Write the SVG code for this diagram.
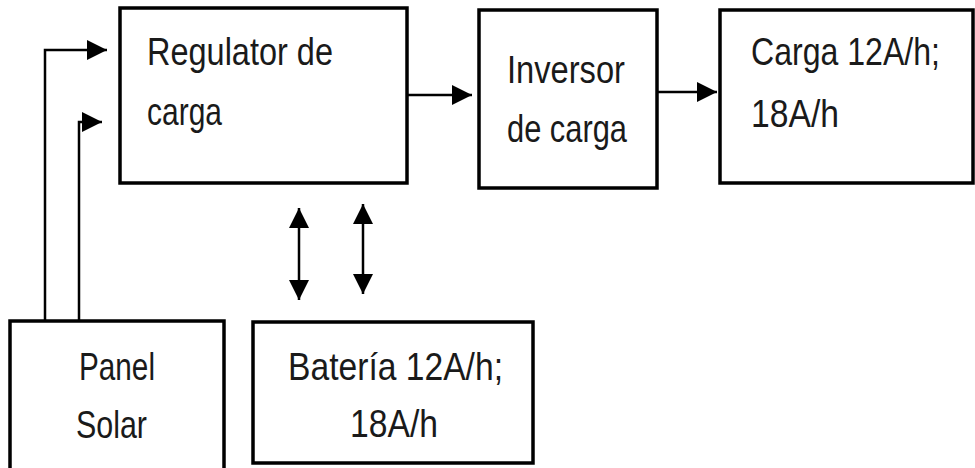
<svg xmlns="http://www.w3.org/2000/svg" width="975" height="468" viewBox="0 0 975 468">
<style>
.box{fill:#fff;stroke:#000;stroke-width:3.5}
.t{font-family:"Liberation Sans",Arial,sans-serif;font-size:39px;fill:#1a1a1a}
.c{text-anchor:middle}
.ln{fill:none;stroke:#000;stroke-width:2.5}
</style>
<defs>
<marker id="ah" viewBox="0 0 10 10" refX="10" refY="5" markerWidth="21" markerHeight="20" markerUnits="userSpaceOnUse" orient="auto-start-reverse">
<path d="M0,0 L10,5 L0,10 Z" fill="#000"/>
</marker>
</defs>
<rect width="975" height="468" fill="#fff"/>
<g id="regulator">
<rect class="box" x="120" y="8" width="287" height="175"/>
<text class="t" x="147" y="65" textLength="186" lengthAdjust="spacingAndGlyphs">Regulator de</text>
<text class="t" x="147" y="125" textLength="75" lengthAdjust="spacingAndGlyphs">carga</text>
</g>
<g id="inversor">
<rect class="box" x="479" y="10" width="178" height="178"/>
<text class="t" x="507" y="83" textLength="118" lengthAdjust="spacingAndGlyphs">Inversor</text>
<text class="t" x="507" y="142" textLength="120" lengthAdjust="spacingAndGlyphs">de carga</text>
</g>
<g id="carga">
<rect class="box" x="720" y="10" width="253" height="173"/>
<text class="t" x="751" y="65" textLength="189" lengthAdjust="spacingAndGlyphs">Carga 12A/h;</text>
<text class="t" x="751" y="127" textLength="88" lengthAdjust="spacingAndGlyphs">18A/h</text>
</g>
<g id="panel">
<rect class="box" x="10" y="321" width="214" height="160"/>
<text class="t" x="79" y="380" textLength="76" lengthAdjust="spacingAndGlyphs">Panel</text>
<text class="t" x="76" y="438" textLength="71" lengthAdjust="spacingAndGlyphs">Solar</text>
</g>
<g id="bateria">
<rect class="box" x="253" y="322" width="280" height="141"/>
<text class="t" x="288" y="380" textLength="215" lengthAdjust="spacingAndGlyphs">Batería 12A/h;</text>
<text class="t" x="350" y="437" textLength="88" lengthAdjust="spacingAndGlyphs">18A/h</text>
</g>
<g id="connectors">
<polyline class="ln" points="45,320 45,50 107,50" marker-end="url(#ah)"/>
<polyline class="ln" points="79,320 79,122 102,122" marker-end="url(#ah)"/>
<line class="ln" x1="407" y1="95" x2="472" y2="95" marker-end="url(#ah)"/>
<line class="ln" x1="658" y1="92" x2="717" y2="92" marker-end="url(#ah)"/>
<line class="ln" x1="299" y1="208" x2="299" y2="300" marker-start="url(#ah)" marker-end="url(#ah)"/>
<line class="ln" x1="363" y1="204" x2="363" y2="294" marker-start="url(#ah)" marker-end="url(#ah)"/>
</g>
</svg>
